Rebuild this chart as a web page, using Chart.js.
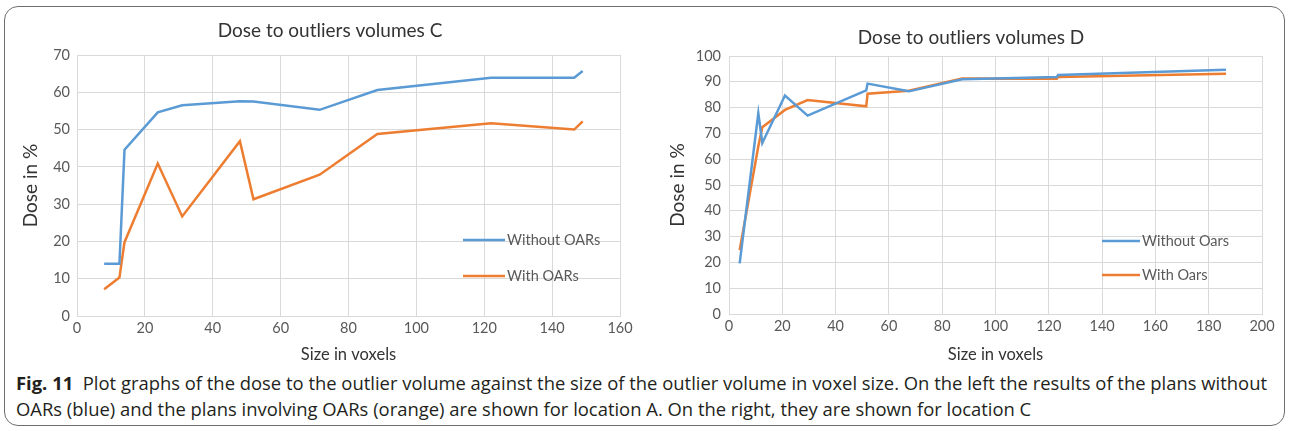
<!DOCTYPE html>
<html>
<head>
<meta charset="utf-8">
<script src="https://cdn.jsdelivr.net/npm/chart.js"></script>
<style>
  body { margin: 0; background: #fff; width: 1290px; height: 431px; overflow: hidden; position: relative; }
  .frame { position: absolute; left: 4px; top: 6px; width: 1279px; height: 418px; border: 1.5px solid #6e6e6e; border-radius: 14px; }
  .box { position: absolute; top: 0; width: 645px; height: 370px; }
  .cap { position: absolute; left: 16px; white-space: nowrap; font-family: "Open Sans", sans-serif; font-size: 17.5px; color: #231f20; transform-origin: 0 0; }
  .cap b { font-weight: 700; }
</style>
</head>
<body>
<div class="frame"></div>
<div class="box" style="left:0"><canvas id="chartC" width="645" height="370"></canvas></div>
<div class="box" style="left:645px"><canvas id="chartD" width="645" height="370"></canvas></div>
<div class="cap" id="cap1" style="top:371px"><b>Fig. 11</b>&nbsp; Plot graphs of the dose to the outlier volume against the size of the outlier volume in voxel size. On the left the results of the plans without</div>
<div class="cap" id="cap2" style="top:397px">OARs (blue) and the plans involving OARs (orange) are shown for location A. On the right, they are shown for location C</div>
<script>
// volumes C (left)
const sizesC = [8, 12.5, 14, 23.8, 31, 48, 52, 71.5, 88.5, 122, 146.5, 149];
const withoutC = [14, 14, 44.6, 54.6, 56.5, 57.6, 57.5, 55.3, 60.6, 63.9, 63.9, 65.7];
const withC = [7.2, 10.3, 19.8, 40.9, 26.7, 46.9, 31.3, 37.9, 48.8, 51.7, 50.0, 52.2];

// volumes D (right)
const sizesD = [4, 11, 12.5, 21, 29.5, 51.5, 52, 67.5, 87.5, 123, 123.5, 186.5];
const withoutD = [19.6, 77.8, 66.3, 84.7, 76.9, 86.7, 89.3, 86.3, 91.0, 91.9, 92.6, 94.7];
const withD = [24.7, 65, 72.4, 79.1, 82.9, 80.5, 85.4, 86.5, 91.3, 91.2, 91.9, 93.1];

const xTicksC = [0, 160, 20];
const yTicksC = [0, 70, 10];
const xTicksD = [0, 200, 20];
const yTicksD = [0, 100, 10];

const BLUE = "#5B9BD5";
const ORANGE = "#ED7D31";
const GRID = "#d9d9d9";
const TXT = "#595959";
const FONT = "Lato, 'Open Sans', sans-serif";

function pts(xs, ys) {
  return xs.map((x, i) => ({ x: x, y: ys[i] }));
}

// legend drawn inside the plot, like the Excel one
const insideLegend = {
  id: "insideLegend",
  afterDraw(chart, args, opts) {
    const ctx = chart.ctx;
    ctx.save();
    ctx.font = "14.5px " + FONT;
    ctx.textBaseline = "middle";
    chart.data.datasets.forEach((ds, i) => {
      const y = opts.y + i * opts.gap;
      ctx.strokeStyle = ds.borderColor;
      ctx.lineWidth = 2.5;
      ctx.beginPath();
      ctx.moveTo(opts.x, y);
      ctx.lineTo(opts.x + opts.len, y);
      ctx.stroke();
      ctx.fillStyle = TXT;
      ctx.fillText(ds.label, opts.x + opts.len + 2, y);
    });
    ctx.restore();
  }
};

// chart title, centred on the whole Excel chart box rather than the canvas padding
const boxTitle = {
  id: "boxTitle",
  afterDraw(chart, args, opts) {
    const ctx = chart.ctx;
    ctx.save();
    ctx.font = "19px " + FONT;
    ctx.fillStyle = "#333333";
    ctx.textAlign = "center";
    ctx.textBaseline = "middle";
    ctx.fillText(opts.text, opts.x, opts.y);
    ctx.restore();
  }
};

function makeChart(id, title, xs, s1, s2, names, xr, yr, cfg) {
  return new Chart(id, {
    type: "scatter",
    data: {
      datasets: [
        { label: names[0], data: pts(xs, s1), borderColor: BLUE, backgroundColor: BLUE, showLine: true, pointRadius: 0, borderWidth: 2.5, tension: 0 },
        { label: names[1], data: pts(xs, s2), borderColor: ORANGE, backgroundColor: ORANGE, showLine: true, pointRadius: 0, borderWidth: 2.5, tension: 0 },
      ],
    },
    options: {
      responsive: false,
      animation: false,
      layout: { padding: { left: cfg.padLeft, right: cfg.padRight, top: cfg.padTop, bottom: 0 } },
      plugins: {
        legend: { display: false },
        tooltip: { enabled: false },
        boxTitle: { text: title, x: cfg.titleX, y: cfg.titleY },
        insideLegend: cfg.legend,
      },
      scales: {
        x: {
          type: "linear",
          min: xr[0], max: xr[1],
          ticks: { stepSize: xr[2], color: TXT, font: { family: FONT, size: 14.5 }, padding: 4 },
          grid: { color: GRID, drawTicks: false },
          border: { color: GRID },
          title: { display: true, text: "Size in voxels", color: "#333333", font: { family: FONT, size: 16.5 }, padding: { top: 4, bottom: 5 } },
          afterFit: (s) => { s.height = cfg.xHeight; },
        },
        y: {
          min: yr[0], max: yr[1],
          ticks: { stepSize: yr[2], color: TXT, font: { family: FONT, size: 14.5 }, padding: cfg.yPad },
          grid: { color: GRID, drawTicks: false },
          border: { color: GRID },
          title: { display: true, text: "Dose in %", color: "#333333", font: { family: FONT, size: 19 }, padding: { top: cfg.yTitlePad, bottom: 0 } },
          afterFit: (s) => { s.width = cfg.yWidth; },
        },
      },
    },
    plugins: [insideLegend, boxTitle],
  });
}

makeChart("chartC", "Dose to outliers volumes C", sizesC, withoutC, withC, ["Without OARs", "With OARs"],
  xTicksC, yTicksC,
  { padLeft: 15, padRight: 25, padTop: 55, titleX: 330, titleY: 31, xHeight: 54, yWidth: 62, yPad: 7, yTitlePad: 4,
    legend: { x: 463, y: 240, gap: 36, len: 42 } });

makeChart("chartD", "Dose to outliers volumes D", sizesD, withoutD, withD, ["Without Oars", "With Oars"],
  xTicksD, yTicksD,
  { padLeft: 6, padRight: 28, padTop: 56, titleX: 326, titleY: 38, xHeight: 56, yWidth: 78, yPad: 8, yTitlePad: 15,
    legend: { x: 457, y: 241, gap: 34, len: 38 } });

// squeeze caption to the reference width
const c1 = document.getElementById("cap1");
const c2 = document.getElementById("cap2");
const k = 1251 / c1.getBoundingClientRect().width;
c1.style.transform = "scaleX(" + k + ")";
c2.style.transform = "scaleX(" + k + ")";
</script>
</body>
</html>
